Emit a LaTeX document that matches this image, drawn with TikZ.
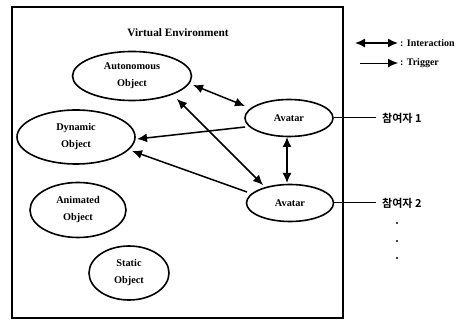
\documentclass[tikz,border=0pt]{standalone}
\usepackage{fontspec}
\setmainfont{Liberation Serif}
\newfontfamily\krfont{Noto Sans CJK KR}[BoldFont={* Bold}]
\usetikzlibrary{arrows.meta,shapes.geometric}
\begin{document}
\begin{tikzpicture}[x=1pt,y=-1pt,
  tip/.tip={Latex[length=10pt,width=9pt]},
  obj/.style={draw,ellipse,line width=1.6pt,inner sep=0pt,align=center,
    font=\fontsize{10.3}{17}\selectfont\bfseries},
  link/.style={line width=1.5pt,-tip},
  both/.style={line width=1.5pt,tip-tip},
  tag/.style={anchor=west,inner sep=0pt,font=\krfont\bfseries\fontsize{11}{13}\selectfont},
  legtext/.style={anchor=west,inner sep=0pt,font=\fontsize{10}{12}\selectfont\bfseries}]
\useasboundingbox (0,0) rectangle (468,320);
% environment frame
\draw[line width=1.3pt] (12,7) rectangle (343,318);
\node[font=\fontsize{11.3}{13}\selectfont\bfseries] (title) at (178,33) {Virtual Environment};
% objects
\node[obj,minimum width=119pt,minimum height=49pt] (auto) at (132,76) {Autonomous\\Object};
\node[obj,minimum width=118pt,minimum height=54pt] (dyn) at (76,137) {Dynamic\\Object};
\node[obj,minimum width=96pt,minimum height=55pt] (anim) at (78,210) {Animated\\Object};
\node[obj,minimum width=80pt,minimum height=54pt] (stat) at (129,273) {Static\\Object};
\node[obj,minimum width=88pt,minimum height=37pt] (av1) at (289,118) {Avatar};
\node[obj,minimum width=87pt,minimum height=37pt] (av2) at (290,203) {Avatar};
% relations
\coordinate (a1) at (193,85);   \coordinate (b1) at (245,106);
\draw[both] (a1) -- (b1);
\coordinate (a2) at (177,99);   \coordinate (b2) at (263,185);
\draw[both] (a2) -- (b2);
\coordinate (c1) at (287,137);  \coordinate (c2) at (287,183);
\draw[both] (c1) -- (c2);
\coordinate (d1) at (245,127);  \coordinate (d2) at (137,139);
\draw[link] (d1) -- (d2);
\coordinate (e1) at (247,192);  \coordinate (e2) at (132,151);
\draw[link] (e1) -- (e2);
% participants
\node[tag] (p1) at (382,118) {참여자 1};
\node[tag] (p2) at (382,203) {참여자 2};
\draw[line width=1pt] (av1.east) -- (p1.west -| 376,0);
\draw[line width=1pt] (av2.east) -- (p2.west -| 376,0);
\foreach \yy/\nm in {223/d1,241/d2,258/d3}
  \fill (397,\yy) circle (1.1pt);
% legend
\coordinate (li1) at (355,43); \coordinate (li2) at (398,43);
\draw[both] (li1) -- (li2);
\node[legtext] (lint) at (400,43) {: Interaction};
\coordinate (lt1) at (360,63); \coordinate (lt2) at (398,63);
\draw[link,line width=0.9pt] (lt1) -- (lt2);
\node[legtext] (ltrg) at (400,63) {: Trigger};
\end{tikzpicture}
\end{document}
